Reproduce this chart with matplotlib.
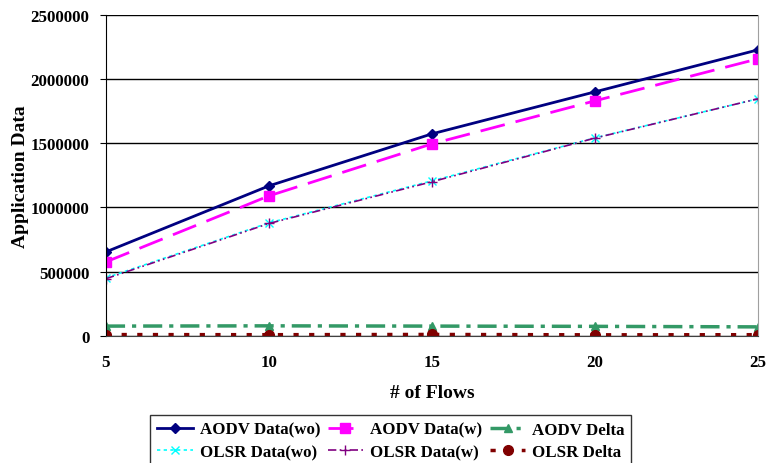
import matplotlib.pyplot as plt

# donnees
flows = [5, 10, 15, 20, 25]
aodv_wo = [654000, 1168000, 1573000, 1900000, 2227000]
aodv_w = [576000, 1090000, 1495000, 1830000, 2157000]
aodv_delta = [76000, 78000, 76000, 74000, 70000]
olsr_wo = [452000, 880000, 1207000, 1542000, 1846000]
olsr_w = [445000, 875000, 1200000, 1540000, 1846000]
olsr_delta = [10000, 9000, 11000, 8000, 9000]

plt.rcParams['font.family'] = ['Liberation Serif', 'DejaVu Serif']
plt.rcParams['font.weight'] = 'bold'

fig = plt.figure(figsize=(7.68, 4.64), dpi=100)
ax = fig.add_axes([0.138, 0.274, 0.849, 0.692])

l1, = ax.plot(flows, aodv_wo, color='#000080', lw=2, marker='D', ms=5, label='AODV Data(wo)')
l2, = ax.plot(flows, aodv_w, color='#ff00ff', lw=2, ls=(0, (9, 4)), marker='s', ms=7, label='AODV Data(w)')
l3, = ax.plot(flows, aodv_delta, color='#339966', lw=2.5, ls=(0, (5.5, 2, 1.2, 2)), marker='^', ms=6, label='AODV Delta')
l4, = ax.plot(flows, olsr_wo, color='#00ffff', lw=1.2, ls=(0, (2, 2)), marker='x', ms=6, label='OLSR Data(wo)')
l5, = ax.plot(flows, olsr_w, color='#800080', lw=1.2, ls=(0, (5, 2, 1, 2, 1, 2)), marker='+', ms=7, label='OLSR Data(w)')
l6, = ax.plot(flows, olsr_delta, color='#800000', lw=2.5, ls=(0, (1.5, 3)), marker='o', ms=7, label='OLSR Delta')

ax.set_xlim(5, 25)
ax.set_ylim(0, 2500000)
ax.set_xticks(flows)
ax.set_yticks(range(0, 2500001, 500000))
ax.ticklabel_format(axis='y', style='plain')
ax.grid(axis='y', color='black', lw=1)
ax.set_axisbelow(True)
ax.tick_params(axis='both', labelsize=12.2, direction='out', length=4)
ax.tick_params(axis='y', pad=8)
ax.tick_params(axis='x', length=0, pad=13)

ax.spines['top'].set_visible(False)
ax.spines['right'].set_color('#a0a0a0')
ax.spines['left'].set_color('black')
ax.spines['bottom'].set_color('#404040')

ax.set_xlabel('# of Flows', fontsize=14, fontweight='bold', labelpad=10)
ax.set_ylabel('Application Data', fontsize=14, fontweight='bold')
ax.yaxis.set_label_coords(-0.118, 0.5)

# ordre ligne par ligne comme dans Excel
handles = [l1, l4, l2, l5, l3, l6]
leg = fig.legend(handles=handles, labels=[h.get_label() for h in handles],
                 loc='upper center', bbox_to_anchor=(0.509, 1 - 416 / 464), ncol=3, fontsize=12.2,
                 frameon=True, fancybox=False, edgecolor='black', handlelength=2.1,
                 columnspacing=0.45, handletextpad=0.4, borderpad=0.4, labelspacing=0.38,
                 borderaxespad=0)
leg.get_frame().set_linewidth(1)

fig.savefig('out.png', dpi=100)
